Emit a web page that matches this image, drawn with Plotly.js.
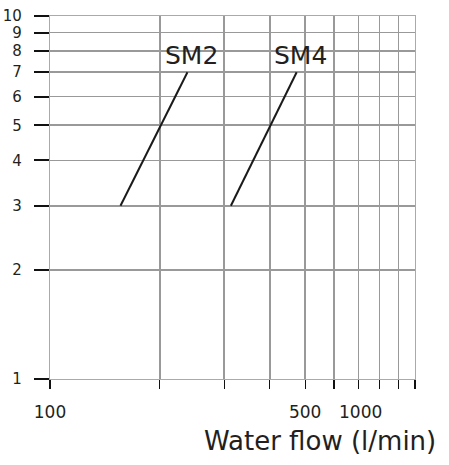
<!DOCTYPE html>
<html>
<head>
<meta charset="utf-8">
<script src="https://cdn.plot.ly/plotly-3.0.1.min.js"></script>
<style>html,body{margin:0;padding:0;background:#fff;}#chart{width:449px;height:465px;}</style>
</head>
<body>
<div id="chart"></div>
<script>
// Data
const seriesNames = ["SM2", "SM4"];
const sm2Flow = [156, 238];
const sm2Value = [3, 7];
const sm4Flow = [313, 474];
const sm4Value = [3, 7];

const xTickVals = [100, 200, 300, 400, 500, 600, 700, 800, 900, 1000];
const xTickText = ["100", "", "", "", "500", "", "", "", "", ""];
const yTickVals = [1, 2, 3, 4, 5, 6, 7, 8, 9, 10];
const yTickText = ["1", "2", "3", "4", "5", "6", "7", "8", "9", "10"];
const xTitle = "Water flow (l/min)";
const lastXLabel = "1000";

const FONT = "DejaVu Sans, Arial, sans-serif";
const TXT = "#231f20";
const GRID = "#999999";

const lineStyle = {color: "#1a1a1a", width: 2};
const traces = [
  {x: sm2Flow, y: sm2Value, name: seriesNames[0], type: "scatter", mode: "lines", line: lineStyle, hoverinfo: "skip"},
  {x: sm4Flow, y: sm4Value, name: seriesNames[1], type: "scatter", mode: "lines", line: lineStyle, hoverinfo: "skip"}
];

const layout = {
  width: 449, height: 465,
  margin: {l: 50, r: 34, t: 16, b: 86, pad: 0},
  paper_bgcolor: "#fff", plot_bgcolor: "#fff",
  showlegend: false,
  font: {family: FONT, color: TXT},
  xaxis: {
    type: "log", range: [2, 3],
    tickvals: xTickVals, ticktext: xTickText,
    ticks: "outside", ticklen: 9, tickwidth: 1.2, tickcolor: "#111",
    tickfont: {family: FONT, size: 17, color: TXT},
    ticklabelstandoff: 8,
    showgrid: true, gridcolor: GRID, gridwidth: 1.6,
    showline: true, linecolor: "#aaaaaa", linewidth: 1.2, mirror: true,
    zeroline: false, fixedrange: true
  },
  yaxis: {
    type: "log", range: [0, 1],
    tickvals: yTickVals, ticktext: yTickText,
    ticks: "outside", ticklen: 15, tickwidth: 2, tickcolor: "#111",
    tickfont: {family: FONT, size: 15, color: TXT},
    ticklabelstandoff: 9,
    showgrid: true, gridcolor: GRID, gridwidth: 1.6,
    showline: true, linecolor: "#aaaaaa", linewidth: 1.2, mirror: true,
    zeroline: false, fixedrange: true
  },
  annotations: [
    {x: Math.log10(sm2Flow[1]), y: Math.log10(sm2Value[1]), xref: "x", yref: "y",
     text: seriesNames[0], showarrow: false, xanchor: "center", yanchor: "middle",
     xshift: 4, yshift: 17, font: {family: FONT, size: 25, color: TXT}},
    {x: Math.log10(sm4Flow[1]), y: Math.log10(sm4Value[1]), xref: "x", yref: "y",
     text: seriesNames[1], showarrow: false, xanchor: "center", yanchor: "middle",
     xshift: 4, yshift: 17, font: {family: FONT, size: 25, color: TXT}},
    {x: Math.log10(1000), y: 0, xref: "x", yref: "paper",
     text: lastXLabel, showarrow: false, xanchor: "center", yanchor: "top",
     xshift: -55, yshift: -21, font: {family: FONT, size: 17, color: TXT}},
    {x: 0, y: 0, xref: "paper", yref: "paper",
     text: xTitle, showarrow: false, xanchor: "center", yanchor: "middle",
     font: {family: FONT, size: 26, color: TXT}}
  ]
};
// axis title placed via annotation in pixel-derived paper coordinates
layout.annotations[3].x = (320 - 50) / (449 - 50 - 34);
layout.annotations[3].y = -(441 - 379) / (465 - 16 - 86);

Plotly.newPlot("chart", traces, layout, {staticPlot: true, displayModeBar: false});
</script>
</body>
</html>
